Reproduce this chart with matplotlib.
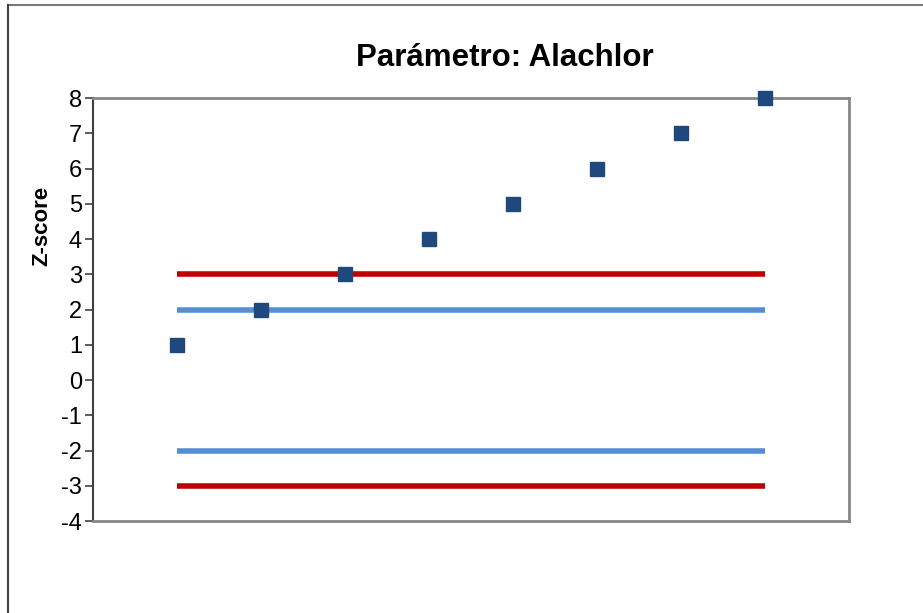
import matplotlib.pyplot as plt
from matplotlib.lines import Line2D

plt.rcParams['font.family'] = ['Liberation Sans', 'DejaVu Sans']
plt.rcParams['axes.unicode_minus'] = False

labs = [1, 2, 3, 4, 5, 6, 7, 8]
zscores = [1, 2, 3, 4, 5, 6, 7, 8]
warn_lim = [2, -2]
act_lim = [3, -3]
yticks = list(range(-4, 9))

fig = plt.figure(figsize=(9.23, 6.13), dpi=100)
ax = fig.add_axes([0.1008, 0.150, 0.819, 0.690])

for v in act_lim:
    ax.plot([labs[0], labs[-1]], [v, v], color='#C00000', linewidth=4, solid_capstyle='butt', zorder=2)
for v in warn_lim:
    ax.plot([labs[0], labs[-1]], [v, v], color='#558ED5', linewidth=4, solid_capstyle='butt', zorder=2)
ax.plot(labs, zscores, linestyle='none', marker='s', markersize=10,
        color='#1F497D', markeredgecolor='#1F497D', zorder=3, clip_on=False)

ax.set_xlim(0, 9)
ax.set_ylim(-4, 8)
ax.set_yticks(yticks)
ax.set_xticks([])
ax.tick_params(axis='y', direction='out', length=6, width=1.2, color='#404040',
               labelsize=17, pad=2)
for s in ['top', 'right', 'bottom']:
    ax.spines[s].set_color('#878787')
    ax.spines[s].set_linewidth(2)
ax.spines['left'].set_color('#404040')
ax.spines['left'].set_linewidth(1.5)

fig.text(505/923, 1-58/613, 'Parámetro: Alachlor', fontsize=22.5, fontweight='bold',
         ha='center', va='center')
fig.text(42/923, 1-226/613, 'Z-score', fontsize=16, fontweight='bold',
         ha='center', va='center', rotation=90)

# chart frame
fig.add_artist(Line2D([8/923, 1], [1-5/613, 1-5/613], color='#7a7a7a', linewidth=1.5, transform=fig.transFigure))
fig.add_artist(Line2D([8/923, 8/923], [0, 1-5/613], color='#404040', linewidth=1.5, transform=fig.transFigure))

fig.savefig('out.png', dpi=100)
